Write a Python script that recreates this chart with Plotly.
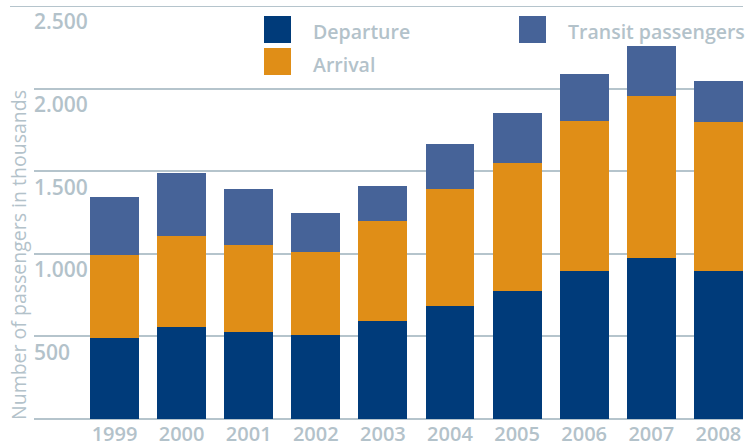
import plotly.graph_objects as go

# passengers in thousands
years = ['1999', '2000', '2001', '2002', '2003', '2004', '2005', '2006', '2007', '2008']
departure = [493, 554, 528, 506, 595, 686, 777, 898, 977, 898]
arrival = [498, 551, 528, 502, 601, 704, 771, 905, 977, 899]
transit = [350, 382, 334, 242, 212, 273, 303, 285, 304, 248]

y_ticks = [500, 1000, 1500, 2000, 2500]
y_tick_text = ['500', '1.000', '1.500', '2.000', '2.500']

colors = {'Departure': 'rgb(0,59,122)', 'Arrival': 'rgb(224,142,23)',
          'Transit passengers': 'rgb(70,99,152)'}
grey = 'rgb(181,196,204)'
text_grey = 'rgb(179,194,202)'

W, H = 747, 445
L, R, T, B = 34, 4, 6, 26
pw, ph = W - L - R, H - T - B


def px(x):
    return (x - L) / pw


def py(y):
    return (H - B - y) / ph


fig = go.Figure()
for name, vals in [('Departure', departure), ('Arrival', arrival), ('Transit passengers', transit)]:
    fig.add_trace(go.Bar(x=years, y=vals, name=name,
                         marker=dict(color=colors[name], line=dict(width=0))))

fig.update_layout(
    width=W, height=H,
    margin=dict(l=L, r=R, t=T, b=B),
    barmode='stack', bargap=0.27,
    showlegend=False,
    plot_bgcolor='white', paper_bgcolor='white',
    font=dict(family='Open Sans', color=text_grey),
)

fig.update_xaxes(type='category', range=[-1.2, 9.367], showgrid=False, showline=False,
                 ticks='', automargin=False, ticklabelstandoff=1,
                 tickfont=dict(size=20, weight=600, color=text_grey))
fig.update_yaxes(range=[0, 2500], tickvals=y_ticks, ticktext=y_tick_text,
                 showgrid=True, gridcolor=grey, gridwidth=2,
                 zeroline=True, zerolinecolor=grey, zerolinewidth=2,
                 showline=False, ticks='', automargin=False,
                 ticklabelposition='inside', ticklabelshift=16, ticklabelstandoff=-3,
                 tickfont=dict(size=21, weight=600, color=text_grey))

# top rule extends further left than the gridlines
fig.add_shape(type='line', xref='paper', yref='y', x0=px(10), x1=1, y0=2500, y1=2500,
              line=dict(color=grey, width=2), layer='below')

# y title
fig.add_annotation(text='Number of passengers in thousands', textangle=-90,
                   xref='paper', yref='paper', x=px(18), y=py(422),
                   xanchor='center', yanchor='bottom', showarrow=False,
                   font=dict(size=19.5, color=text_grey))

# legend keys
legend_items = [('Departure', 264, 16), ('Arrival', 264, 48), ('Transit passengers', 519, 16)]
for name, lx, ly in legend_items:
    fig.add_shape(type='rect', xref='paper', yref='paper',
                  x0=px(lx), x1=px(lx + 27), y0=py(ly), y1=py(ly + 27),
                  fillcolor=colors[name], line=dict(width=0))
    fig.add_annotation(text=name, xref='paper', yref='paper',
                       x=px(lx + 47), y=py(ly + 16), xanchor='left', yanchor='middle',
                       showarrow=False, font=dict(size=19.5, weight=600, color=text_grey))

fig.write_html('out.html', config={'displayModeBar': False},
               post_script="document.body.style.margin='0';")
